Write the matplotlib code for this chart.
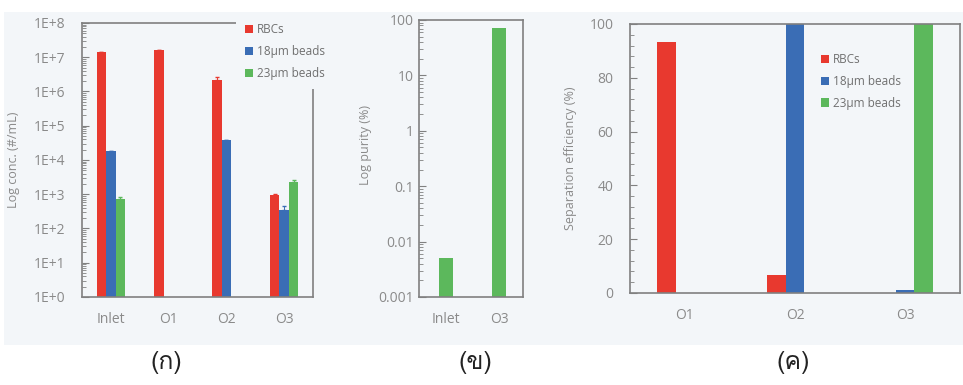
"""Three-panel separation results: concentration, purity, efficiency."""
import numpy as np
import matplotlib
matplotlib.use("Agg")
import matplotlib.pyplot as plt
from matplotlib import font_manager
from matplotlib.ft2font import FT2Font
from matplotlib.ticker import FixedLocator, FuncFormatter, AutoMinorLocator, LogLocator, NullFormatter
from matplotlib.patches import Rectangle

# ---- data ----
series = ["RBCs", "18\u03bcm beads", "23\u03bcm beads"]
conc_cats = ["Inlet", "O1", "O2", "O3"]
conc_rbc = [1.4e7, 1.6e7, 2.2e6, 950]
conc_b18 = [1.8e4, 0, 3.8e4, 350]
conc_b23 = [720, 0, 0, 2300]
conc_err_rbc = [4e5, 4e5, 4e5, 60]
conc_err_b18 = [0, 0, 0, 90]
conc_err_b23 = [120, 0, 0, 350]

purity_cats = ["Inlet", "O3"]
purity_b23 = [0.005, 71]

eff_cats = ["O1", "O2", "O3"]
eff_rbc = [93.3, 6.7, 0]
eff_b18 = [0, 100, 1]
eff_b23 = [0, 0, 100]

panel_tags = ["(\u0e01)", "(\u0e02)", "(\u0e04)"]

RED, BLUE, GREEN = "#e8392f", "#3a6db5", "#5cb85c"
BG = "#f3f6f9"
FRAME = "#808080"
TXT = "#8a8a8a"


def thai_family():
    for f in font_manager.fontManager.ttflist:
        try:
            if ord("\u0e01") in FT2Font(f.fname).get_charmap():
                return f.name
        except Exception:
            pass
    return "DejaVu Sans"


plt.rcParams["font.family"] = ["Open Sans", "DejaVu Sans"]
fig = plt.figure(figsize=(9.63, 3.85), dpi=100, facecolor="white")
fig.patches.append(Rectangle((0.004, 0.104), 1.0, 0.865, transform=fig.transFigure,
                             facecolor=BG, edgecolor="none", zorder=-10))


def style(ax, ypad):
    ax.set_facecolor(BG)
    for s in ax.spines.values():
        s.set_color(FRAME); s.set_linewidth(1.2)
    ax.tick_params(axis="y", which="both", direction="in", colors=FRAME,
                   labelcolor=TXT, labelsize=10, left=True, right=False, pad=ypad)
    ax.tick_params(axis="y", which="major", length=5)
    ax.tick_params(axis="y", which="minor", length=3)
    ax.tick_params(axis="x", length=0, labelcolor=TXT, labelsize=10, pad=11)


def lg(ax, bp=0.4, **kw):
    L = ax.legend(fontsize=8.5, frameon=True, facecolor=BG, edgecolor="none",
                  framealpha=1, handlelength=0.7, handleheight=0.7, borderpad=bp,
                  handletextpad=0.3, labelspacing=0.75, borderaxespad=0, **kw)
    for t in L.get_texts():
        t.set_color("#707070")
    L.set_zorder(10)
    return L


# ======== panel 1: log concentration ========
ax1 = fig.add_axes([0.0852, 0.2286, 0.2399, 0.7117])
x = np.arange(len(conc_cats)); w = 0.165
for k, (vals, err, c) in enumerate(((conc_rbc, conc_err_rbc, RED),
                                    (conc_b18, conc_err_b18, BLUE),
                                    (conc_b23, conc_err_b23, GREEN))):
    ax1.bar(x + (k - 1) * w, vals, w, color=c, label=series[k],
            yerr=[np.zeros(len(err)), err], ecolor=c, capsize=1.2,
            error_kw=dict(lw=0.7))
ax1.set_yscale("log")
ax1.set_ylim(1, 1e8); ax1.set_xlim(-0.5, 3.5)
ax1.yaxis.set_major_locator(FixedLocator([10.0 ** k for k in range(9)]))
ax1.yaxis.set_major_formatter(FuncFormatter(lambda v, p: f"1E+{int(round(np.log10(v)))}"))
ax1.yaxis.set_minor_locator(LogLocator(base=10, subs=np.arange(2, 10)))
ax1.yaxis.set_minor_formatter(NullFormatter())
ax1.set_xticks(x); ax1.set_xticklabels(conc_cats)
style(ax1, 12)
ax1.set_ylabel("Log conc. (#/mL)", fontsize=9, color=TXT)
ax1.yaxis.set_label_coords(-0.27, 0.5)
lg(ax1, bp=0.8, loc="upper left", bbox_to_anchor=(0.665, 1.034))

# ======== panel 2: log purity ========
ax2 = fig.add_axes([0.4351, 0.2286, 0.1080, 0.7195])
x2 = np.arange(len(purity_cats))
ax2.bar(x2, purity_b23, 0.26, color=GREEN)
ax2.set_yscale("log")
ax2.set_ylim(0.001, 100); ax2.set_xlim(-0.5, 1.45)
ax2.yaxis.set_major_locator(FixedLocator([0.001, 0.01, 0.1, 1, 10, 100]))
ax2.yaxis.set_major_formatter(FuncFormatter(lambda v, p: f"{v:g}"))
ax2.yaxis.set_minor_locator(LogLocator(base=10, subs=np.arange(2, 10)))
ax2.yaxis.set_minor_formatter(NullFormatter())
ax2.set_xticks(x2); ax2.set_xticklabels(purity_cats)
style(ax2, 4)
ax2.set_ylabel("Log purity (%)", fontsize=9, color=TXT)
ax2.yaxis.set_label_coords(-0.45, 0.55)

# ======== panel 3: separation efficiency ========
ax3 = fig.add_axes([0.6542, 0.2390, 0.3427, 0.6987])
x3 = np.arange(len(eff_cats)); w3 = 0.168
for k, (vals, c) in enumerate(((eff_rbc, RED), (eff_b18, BLUE), (eff_b23, GREEN))):
    ax3.bar(x3 + (k - 1) * w3, vals, w3, color=c, label=series[k])
ax3.set_ylim(0, 100); ax3.set_xlim(-0.5, 2.5)
ax3.set_yticks(np.arange(0, 101, 20))
ax3.yaxis.set_minor_locator(AutoMinorLocator(5))
ax3.set_xticks(x3); ax3.set_xticklabels(eff_cats)
style(ax3, 12)
ax3.set_ylabel("Separation efficiency (%)", fontsize=9, color=TXT)
ax3.yaxis.set_label_coords(-0.16, 0.5)
lg(ax3, loc="upper left", bbox_to_anchor=(0.565, 0.91))

# ---- panel tags ----
tf = [thai_family(), "DejaVu Sans"]
for xc, tag in zip((166, 475, 793), panel_tags):
    fig.text(xc / 963, 1 - 363 / 385, tag, ha="center", va="center",
             fontsize=18, family=tf, color="#222222")

fig.savefig("out.png", dpi=100, facecolor="white")
